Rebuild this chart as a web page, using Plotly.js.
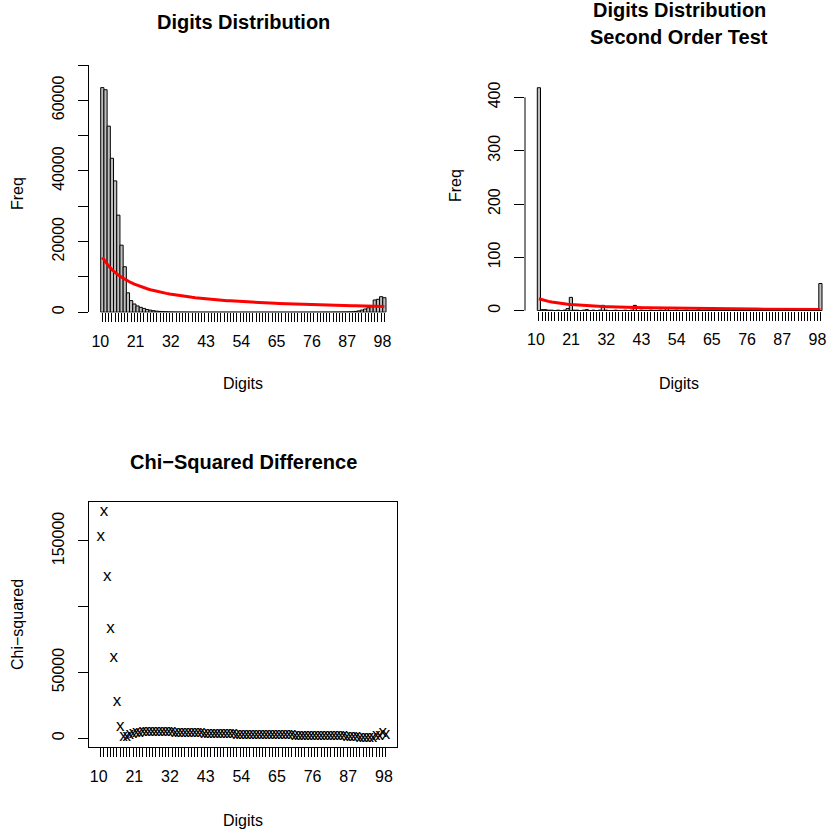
<!DOCTYPE html>
<html><head><meta charset="utf-8">
<script src="https://cdn.plot.ly/plotly-3.0.1.min.js"></script>
<style>body{margin:0;background:#fff}#chart{width:828px;height:838px}</style>
</head><body><div id="chart"></div>
<script>
const digits = [10,11,12,13,14,15,16,17,18,19,20,21,22,23,24,25,26,27,28,29,30,31,32,33,34,35,36,37,38,39,40,41,42,43,44,45,46,47,48,49,50,51,52,53,54,55,56,57,58,59,60,61,62,63,64,65,66,67,68,69,70,71,72,73,74,75,76,77,78,79,80,81,82,83,84,85,86,87,88,89,90,91,92,93,94,95,96,97,98];
const labeledDigits = [10,21,32,43,54,65,76,87,98];

const freq1 = [
  63600,63000,52700,43600,37200,27500,19000,12900,5500,3300,
  2350,1800,1400,1100,800,600,450,330,250,190,
  150,120,100,85,75,65,60,55,50,48,
  45,43,41,40,39,38,37,36,35,34,
  34,33,33,32,32,31,31,30,30,30,
  30,30,30,30,30,30,30,31,31,32,
  33,34,35,36,38,40,42,45,48,52,
  56,62,68,76,86,98,112,130,150,250,
  400,620,930,1300,1590,3490,3680,4420,4130];
const expected1 = [15564,14209,13071,12102,11266,10539,9900,9334,8829,8376,7967,7596,7259,6950,6666,6404,6163,5939,5730,5536,5354,5184,5025,4875,4733,4600,4474,4355,4242,4134,4032,3935,3842,3754,3670,3589,3512,3438,3367,3299,3234,3171,3110,3052,2996,2942,2890,2839,2791,2744,2698,2654,2611,2570,2530,2491,2454,2417,2382,2348,2314,2282,2251,2220,2191,2162,2133,2106,2080,2054,2029,2004,1980,1957,1934,1912,1890,1869,1848,1828,1809,1789,1771,1752,1734,1717,1700,1683,1667];

const freq2 = [418,2,2,1,1,0,1,0,1,4,25,1,1,0,1,2,0,1,0,1,10,1,0,0,1,0,0,1,0,1,10,0,1,0,0,1,0,0,1,0,6,0,0,1,0,0,1,0,0,0,2,0,0,0,1,0,0,0,0,0,2,0,0,0,0,0,0,0,0,0,1,0,0,0,0,0,0,0,0,0,1,0,0,0,0,0,0,0,51];
const expected2 = [22.5,20.5,18.9,17.5,16.3,15.2,14.3,13.5,12.8,12.1,11.5,11.0,10.5,10.0,9.6,9.2,8.9,8.6,8.3,8.0,7.7,7.5,7.3,7.0,6.8,6.6,6.5,6.3,6.1,6.0,5.8,5.7,5.5,5.4,5.3,5.2,5.1,5.0,4.9,4.8,4.7,4.6,4.5,4.4,4.3,4.2,4.2,4.1,4.0,4.0,3.9,3.8,3.8,3.7,3.7,3.6,3.5,3.5,3.4,3.4,3.3,3.3,3.3,3.2,3.2,3.1,3.1,3.0,3.0,3.0,2.9,2.9,2.9,2.8,2.8,2.8,2.7,2.7,2.7,2.6,2.6,2.6,2.6,2.5,2.5,2.5,2.5,2.4,2.4];

const chiSq = [153000,172000,123000,83000,61000,27500,8400,1300,900,2400,3300,3900,4300,4600,4800,4900,4950,4950,4900,4850,4780,4700,4620,4540,4460,4380,4300,4200,4100,4000,3920,3840,3760,3680,3600,3520,3450,3380,3310,3250,3190,3130,3070,3010,2960,2910,2860,2810,2760,2710,2660,2620,2580,2540,2500,2460,2420,2390,2350,2320,2280,2250,2220,2190,2160,2130,2100,2070,2040,2010,1970,1930,1880,1820,1740,1640,1520,1380,1200,980,760,500,260,120,40,1900,2300,3900,2900];

const freqTicks1 = [0,10000,20000,30000,40000,50000,60000,70000];
const freqTickLabels1 = ['0','','20000','','40000','','60000',''];
const freqTicks2 = [0,100,200,300,400];
const freqTickLabels2 = ['0','100','200','300','400'];
const chiTicks = [0,50000,100000,150000];
const chiTickLabels = ['0','50000','','150000'];

const W = 828, H = 838;
const fx = p => p / W;
const fy = p => 1 - p / H;
const FONT = '"Liberation Sans", Arial, Helvetica, sans-serif';
const digitText = digits.map(d => labeledDigits.includes(d) ? String(d) : '');

const xCommon = {
  tickvals: digits, ticktext: digitText, ticks: 'outside', ticklen: 9, tickwidth: 1,
  tickcolor: '#000', showgrid: false, zeroline: false, tickangle: 0,
  tickfont: {family: FONT, size: 16, color: '#000'}, ticklabelstandoff: 5,
  ticklabeloverflow: 'allow', ticklabelshift: -2
};
const yCommon = {
  ticks: 'outside', ticklen: 10, tickwidth: 1, tickcolor: '#000', showgrid: false,
  zeroline: false, tickangle: -90, linecolor: '#000', linewidth: 1,
  tickfont: {family: FONT, size: 16, color: '#000'}, ticklabelstandoff: 8
};

const traces = [
  {type: 'bar', x: digits, y: freq1, width: 1, xaxis: 'x', yaxis: 'y',
   marker: {color: '#BEBEBE', line: {color: '#000', width: 1}}, hoverinfo: 'skip'},
  {type: 'scatter', mode: 'lines', x: digits, y: expected1, xaxis: 'x', yaxis: 'y',
   line: {color: '#FF0000', width: 3}, hoverinfo: 'skip'},
  {type: 'bar', x: digits, y: freq2, width: 1, xaxis: 'x2', yaxis: 'y2',
   marker: {color: '#BEBEBE', line: {color: '#000', width: 1}}, hoverinfo: 'skip'},
  {type: 'scatter', mode: 'lines', x: digits, y: expected2, xaxis: 'x2', yaxis: 'y2',
   line: {color: '#FF0000', width: 3}, hoverinfo: 'skip'},
  {type: 'scatter', mode: 'text', x: digits, y: chiSq, text: digits.map(() => 'x'),
   textposition: 'middle center', xaxis: 'x3', yaxis: 'y3',
   textfont: {family: FONT, size: 17, color: '#000'}, hoverinfo: 'skip', cliponaxis: false}
];

const ann = (text, x, y, size, bold, angle) => ({
  text: bold ? '<b>' + text + '</b>' : text, xref: 'paper', yref: 'paper',
  x: fx(x), y: fy(y), xanchor: 'center', yanchor: 'middle', showarrow: false,
  textangle: angle || 0, font: {family: FONT, size: size, color: '#000'}
});

const layout = {
  width: W, height: H, margin: {l: 0, r: 0, t: 0, b: 0},
  paper_bgcolor: '#fff', plot_bgcolor: 'rgba(0,0,0,0)', showlegend: false,
  bargap: 0,
  xaxis: Object.assign({}, xCommon, {domain: [fx(89.3), fx(397.4)], range: [5.94, 102.06], anchor: 'y', showline: false}),
  yaxis: Object.assign({}, yCommon, {domain: [fy(312.3), fy(65)], range: [0, 70000], anchor: 'x',
    tickvals: freqTicks1, ticktext: freqTickLabels1, showline: true}),
  xaxis2: Object.assign({}, xCommon, {domain: [fx(525), 1], range: [5.655, 100.376], anchor: 'y2', showline: false,
    ticklabelshift: -3}),
  yaxis2: Object.assign({}, yCommon, {domain: [fy(310.7), fy(76)], range: [0, 440], anchor: 'x2',
    tickvals: freqTicks2, ticktext: freqTickLabels2, showline: false}),
  xaxis3: Object.assign({}, xCommon, {domain: [fx(89.3), fx(397.3)], range: [6.48, 101.52], anchor: 'y3',
    showline: true, mirror: true, linecolor: '#000', linewidth: 1}),
  yaxis3: Object.assign({}, yCommon, {domain: [fy(747.3), fy(502.3)], range: [-6840, 179330], anchor: 'x3',
    tickvals: chiTicks, ticktext: chiTickLabels, showline: true, mirror: true}),
  shapes: [
    {type: 'line', xref: 'x', yref: 'y', x0: 9.5, x1: 98.5, y0: 0, y1: 0, line: {color: '#000', width: 1}},
    {type: 'line', xref: 'x2', yref: 'y2', x0: 9.5, x1: 98.5, y0: 0, y1: 0, line: {color: '#000', width: 1}},
    {type: 'line', xref: 'paper', yref: 'y2', x0: fx(525), x1: fx(525), y0: 0, y1: 400, line: {color: '#000', width: 1}}
  ],
  annotations: [
    ann('Digits Distribution', 243.3, 22, 20, true),
    ann('Digits Distribution', 679, 10, 20, true),
    ann('Second Order Test', 679, 37, 20, true),
    ann('Chi\u2212Squared Difference', 243.3, 462, 20, true),
    ann('Digits', 243.3, 383, 16, false),
    ann('Digits', 679, 383, 16, false),
    ann('Digits', 243.3, 820, 16, false),
    ann('Freq', 17, 194, 16, false, -90),
    ann('Freq', 455, 186, 16, false, -90),
    ann('Chi\u2212squared', 17, 625, 16, false, -90)
  ]
};

Plotly.newPlot('chart', traces, layout, {staticPlot: true, displayModeBar: false});
</script></body></html>
